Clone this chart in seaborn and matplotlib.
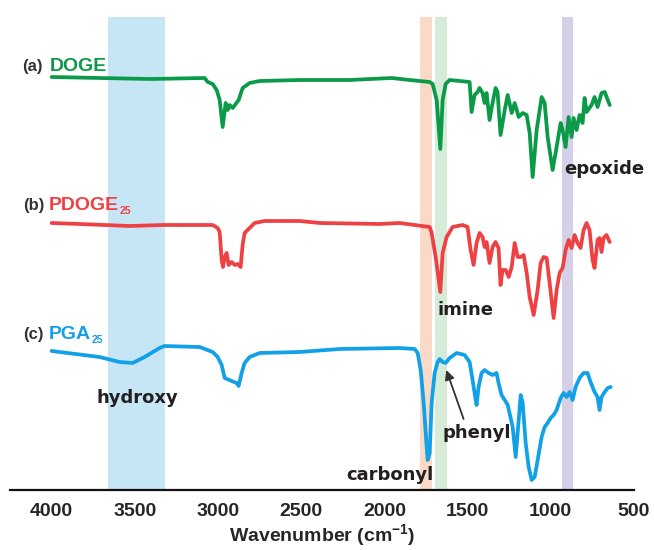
import numpy as np
import pandas as pd
import matplotlib
matplotlib.use("Agg")
import matplotlib.pyplot as plt
import seaborn as sns

# --- FTIR spectra, values (offset transmittance, a.u.) ---
doge_wn = [4000, 3712, 3411, 3080, 3062, 3032, 3008, 2990, 2972, 2954, 2942, 2930,
           2912, 2894, 2876, 2852, 2810, 2750, 2510, 2209, 1957, 1848,
           1728, 1710, 1686, 1664, 1650, 1632, 1608, 1488, 1476, 1458, 1440, 1428,
           1410, 1398, 1386, 1368, 1350, 1332, 1320, 1302, 1277, 1259, 1235, 1217,
           1193, 1169, 1145, 1127, 1109, 1085, 1055, 1037, 1019, 989, 965, 941,
           929, 911, 893, 875, 863, 845, 827, 809, 797, 785, 755, 737, 719, 695,
           676, 646]
doge_t = [413, 412, 411, 412, 408, 406, 400, 390, 363, 387, 380, 385,
          382, 386, 390, 402, 407, 409, 410, 410, 412, 410,
          408, 406, 390, 341, 390, 406, 410, 408, 378, 395, 398, 402,
          397, 387, 397, 370, 387, 402, 398, 355, 380, 395, 377, 387,
          373, 377, 375, 357, 313, 360, 393, 387, 353, 320, 343, 367,
          360, 343, 373, 353, 372, 360, 375, 367, 392, 378, 385, 393, 383, 397,
          398, 385]

pdoge_wn = [4000, 3832, 3531, 3333, 3032, 3002, 2990, 2978, 2970, 2960, 2948, 2936,
            2918, 2900, 2882, 2864, 2852, 2840, 2822, 2780, 2720, 2510, 2389, 2029,
            1909, 1728, 1716, 1692, 1664, 1650, 1626, 1590, 1530, 1500, 1482, 1464,
            1446, 1428, 1410, 1398, 1386, 1368, 1350, 1332, 1314, 1302, 1290, 1271,
            1253, 1235, 1217, 1199, 1181, 1163, 1145, 1127, 1103, 1079, 1061, 1043,
            1025, 1007, 983, 965, 947, 929, 911, 893, 875, 857, 839, 821, 803, 785,
            767, 749, 737, 719, 707, 695, 683, 665, 646]
pdoge_t = [267, 266, 264, 265, 265, 262, 258, 230, 223, 233, 237, 225,
           228, 225, 226, 223, 245, 257, 260, 267, 269, 269, 267, 266,
           267, 263, 257, 233, 198, 237, 253, 263, 265, 263, 240, 225,
           247, 257, 253, 243, 248, 227, 243, 248, 242, 205, 220, 220,
           213, 223, 247, 233, 233, 235, 217, 193, 175, 200, 227, 233,
           232, 207, 172, 200, 217, 222, 240, 250, 242, 255, 247, 242, 260, 267,
           260, 230, 222, 250, 252, 238, 252, 255, 248]

pga_wn = [4000, 3712, 3591, 3513, 3441, 3351, 3321, 3111, 3032, 3002, 2978, 2960,
          2918, 2888, 2876, 2858, 2840, 2810, 2750, 2510, 2269, 1909, 1818, 1800,
          1782, 1764, 1746, 1740, 1728, 1716, 1698, 1680, 1668, 1650, 1632, 1608,
          1566, 1518, 1488, 1470, 1458, 1446, 1434, 1416, 1398, 1374, 1350, 1326,
          1314, 1296, 1277, 1259, 1229, 1211, 1193, 1181, 1169, 1151, 1133, 1115,
          1097, 1079, 1055, 1037, 1019, 1001, 983, 965, 941, 923, 905, 887, 869,
          851, 827, 803, 779, 761, 737, 719, 707, 695, 676, 658, 640]
pga_t = [139, 133, 128, 127, 133, 142, 144, 143, 138, 133, 125, 112,
         109, 107, 104, 117, 127, 133, 137, 138, 141, 142, 141, 137,
         120, 87, 43, 30, 37, 87, 117, 128, 131, 128, 127, 132,
         137, 135, 128, 110, 97, 85, 103, 117, 120, 117, 115, 117,
         107, 95, 90, 85, 63, 33, 70, 95, 87, 47, 23, 10,
         13, 30, 53, 63, 67, 72, 75, 80, 92, 97, 93, 98, 90,
         103, 112, 117, 117, 108, 98, 93, 80, 93, 98, 102, 103]

# shaded bands: hydroxy, carbonyl, imine, epoxide
band_lo = [3320, 1713, 1623, 864]
band_hi = [3660, 1784, 1695, 932]
band_colors = ['#c6e6f6', '#f9dac7', '#d7ebd9', '#d3d0e8']

names = ['DOGE', 'PDOGE', 'PGA']
tags = ['(a)', '(b)', '(c)']
subs = ['', '25', '25']
line_colors = ['#0b9a48', '#ee4144', '#12a1e6']

sns.set_theme(style='white')
plt.rcParams['font.family'] = ['Liberation Sans', 'DejaVu Sans']
plt.rcParams['font.weight'] = 'bold'

fig = plt.figure(figsize=(6.54, 5.5), dpi=100)
ax = fig.add_axes([10 / 654, 60 / 550, 624 / 654, 480 / 550])

for lo, hi, c in zip(band_lo, band_hi, band_colors):
    ax.axvspan(lo, hi, ymin=0, ymax=473 / 480, color=c, lw=0, zorder=0)

spectra = [(doge_wn, doge_t), (pdoge_wn, pdoge_t), (pga_wn, pga_t)]
for (wn, t), c in zip(spectra, line_colors):
    df = pd.DataFrame({'wavenumber': wn, 'signal': t})
    sns.lineplot(data=df, x='wavenumber', y='signal', color=c, linewidth=2.7,
                 sort=False, estimator=None, ax=ax, zorder=3)

# sample labels
label_pos = [(4180, 4012, 419), (4174, 4018, 280), (4174, 4018, 151)]
for (xt, xn, yb), tag, nm, sb, c in zip(label_pos, tags, names, subs, line_colors):
    ax.text(xt, yb, tag, fontsize=12, color='#333333', fontweight='bold', va='baseline')
    t = ax.text(xn, yb, nm, fontsize=14, color=c, fontweight='bold', va='baseline')
    if sb:
        ax.annotate(sb, xy=(1.0, 0.0), xycoords=t, xytext=(1, -1.5),
                    textcoords='offset points', fontsize=7.5, color=c,
                    fontweight='bold', va='bottom', ha='left')

# functional group labels
lab_kw = dict(fontsize=13, color='#231f20', fontweight='bold',
              family='DejaVu Sans', va='baseline')
ax.text(917, 316, 'epoxide', ha='left', **lab_kw)
ax.text(1680, 175, 'imine', ha='left', **lab_kw)
ax.text(3730, 87, 'hydroxy', ha='left', **lab_kw)
ax.text(1704, 10, 'carbonyl', ha='right', **lab_kw)
ax.text(1648, 52, 'phenyl', ha='left', **lab_kw)
ax.annotate('', xy=(1628, 120), xytext=(1524, 71),
            arrowprops=dict(arrowstyle='-|>', color='#333333', lw=1.3,
                            mutation_scale=14, shrinkA=0, shrinkB=0))

ax.set_xlim(4250, 500)
ax.set_ylim(0, 480)
ax.set_xticks(np.arange(4000, 499, -500))
ax.set_xticks(np.arange(4250, 499, -250), minor=True)
ax.set_yticks([])
ax.set_ylabel('')
ax.set_xlabel('Wavenumber (cm$^{\\mathregular{-1}}$)', fontsize=14,
              fontweight='bold', labelpad=2)
for side in ['top', 'right', 'left']:
    ax.spines[side].set_visible(False)
ax.spines['bottom'].set_linewidth(1.6)
ax.spines['bottom'].set_color('#111111')
ax.tick_params(axis='x', which='major', direction='out', length=6, width=1.6,
               color='#111111', pad=3)
ax.tick_params(axis='x', which='minor', direction='out', length=6, width=1.6,
               color='#111111')
for lbl in ax.get_xticklabels():
    lbl.set_family(['Liberation Sans Narrow', 'Liberation Sans'])
    lbl.set_fontsize(14)
    lbl.set_fontweight('bold')
ax.patch.set_alpha(0)

fig.savefig('out.png', dpi=100)
